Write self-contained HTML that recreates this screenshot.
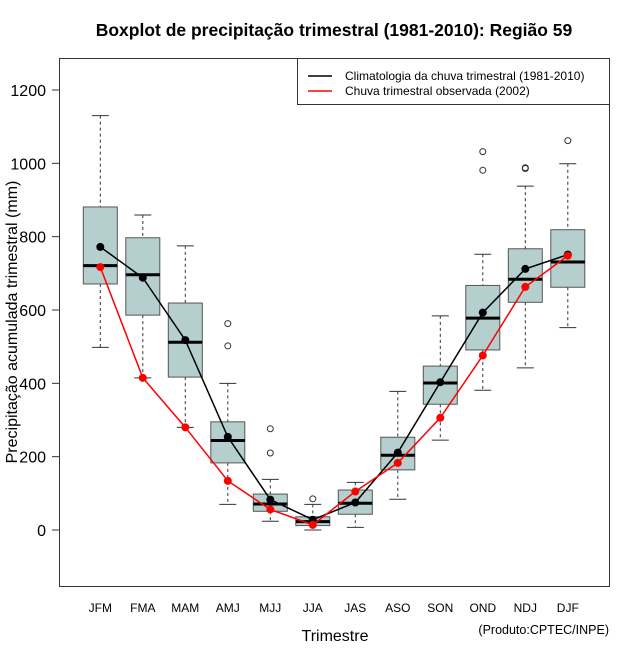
<!DOCTYPE html>
<html><head><meta charset="utf-8"><style>
body{margin:0;background:#fff;}
svg text{font-family:"Liberation Sans",sans-serif;}
</style></head><body>
<svg id="chart" width="640" height="660" xmlns="http://www.w3.org/2000/svg">
<rect width="640" height="660" fill="#fff"/>
<text x="334" y="36" text-anchor="middle" font-size="17.5" font-weight="bold">Boxplot de precipitação trimestral (1981-2010): Região 59</text>
<rect x="59.5" y="58.5" width="550" height="528" fill="none" stroke="#333"/>
<g id="yaxis"></g>
<g id="xaxis"></g>
<g id="boxes"></g>
<g id="lines"></g>
<text x="335" y="641" text-anchor="middle" font-size="16">Trimestre</text>
<text transform="translate(17,322) rotate(-90)" text-anchor="middle" font-size="16">Precipitação acumulada trimestral (mm)</text>
<text x="609" y="634" text-anchor="end" font-size="12.5">(Produto:CPTEC/INPE)</text>
<g>
<rect x="297.5" y="58.5" width="312" height="46" fill="#fff" stroke="#333"/>
<line x1="308" y1="76" x2="332" y2="76" stroke="#000" stroke-width="1.5"/>
<text x="345" y="80" font-size="12">Climatologia da chuva trimestral (1981-2010)</text>
<line x1="308" y1="91" x2="332" y2="91" stroke="#f00" stroke-width="1.5"/>
<text x="345" y="95" font-size="12">Chuva trimestral observada (2002)</text>
</g>
</svg>
<script>
const categories=["JFM","FMA","MAM","AMJ","MJJ","JJA","JAS","ASO","SON","OND","NDJ","DJF"];
const whiskerLow=[498,415,280,70,24,0,7,84,245,381,442,552];
const q1=[671,586,417,183,51,12,43,164,343,491,621,662];
const median=[721,696,512,244,71,23,73,204,401,578,684,731];
const q3=[881,797,619,295,98,36,109,253,447,667,767,819];
const whiskerHigh=[1130,859,775,400,138,70,130,378,584,752,938,999];
const outliers=[[],[],[],[563,502],[276,210],[85],[],[],[],[1032,981],[988,986],[1062]];
const climatology=[772,688,518,254,83,28,75,211,403,593,712,751];
const observed=[717,415,280,134,56,14,105,183,306,476,663,748];
const yTicks=[0,200,400,600,800,1000,1200];

const NS="http://www.w3.org/2000/svg";
function y(v){return 530-v*0.36667;}
function x(i){return 100.3+i*42.5;}
function mk(parent,tag,attrs){const e=document.createElementNS(NS,tag);for(const k in attrs)e.setAttribute(k,attrs[k]);parent.appendChild(e);return e;}
const ya=document.getElementById('yaxis');
mk(ya,'line',{x1:59.5,x2:59.5,y1:y(0),y2:y(1200),stroke:'#333'});
yTicks.forEach(t=>{
  const l=mk(ya,'line',{x1:52,x2:59.5,y1:y(t),y2:y(t),stroke:'#333'});
  
  
  const tx=mk(ya,'text',{x:46,y:y(t)+6,'text-anchor':'end','font-size':16});
  tx.textContent=t;
  
  
});
const xa=document.getElementById('xaxis');
categories.forEach((c,i)=>{
  const tx=mk(xa,'text',{x:x(i),y:612,'text-anchor':'middle','font-size':12});
  tx.textContent=c;
  
  
});
const bx=document.getElementById('boxes');
categories.forEach((c,i)=>{
  const g=mk(bx,'g',{});
  
  
  const cx=x(i),hw=17,cw=8.5;
  mk(g,'line',{x1:cx,x2:cx,y1:y(whiskerHigh[i]),y2:y(q3[i]),stroke:'#333','stroke-dasharray':'3,3'});
  mk(g,'line',{x1:cx,x2:cx,y1:y(q1[i]),y2:y(whiskerLow[i]),stroke:'#333','stroke-dasharray':'3,3'});
  mk(g,'line',{x1:cx-cw,x2:cx+cw,y1:y(whiskerHigh[i]),y2:y(whiskerHigh[i]),stroke:'#333'});
  mk(g,'line',{x1:cx-cw,x2:cx+cw,y1:y(whiskerLow[i]),y2:y(whiskerLow[i]),stroke:'#333'});
  mk(g,'rect',{x:cx-hw,y:y(q3[i]),width:2*hw,height:y(q1[i])-y(q3[i]),fill:'#b5cfcf',stroke:'#555'});
  mk(g,'line',{x1:cx-hw,x2:cx+hw,y1:y(median[i]),y2:y(median[i]),stroke:'#000','stroke-width':3});
  outliers[i].forEach(o=>{const p=mk(g,'circle',{cx:cx,cy:y(o),r:3,fill:'none',stroke:'#333'});
    
    });
});
const ln=document.getElementById('lines');
function series(vals,col,name){
  const pl=mk(ln,'polyline',{points:vals.map((v,i)=>x(i)+','+y(v)).join(' '),fill:'none',stroke:col,'stroke-width':1.5});
  
  
  vals.forEach((v,i)=>{const p=mk(ln,'circle',{cx:x(i),cy:y(v),r:4,fill:col});
    
    });
}
series(climatology,'#000','climatology');
series(observed,'#f00','observed');
</script>
</body></html>
